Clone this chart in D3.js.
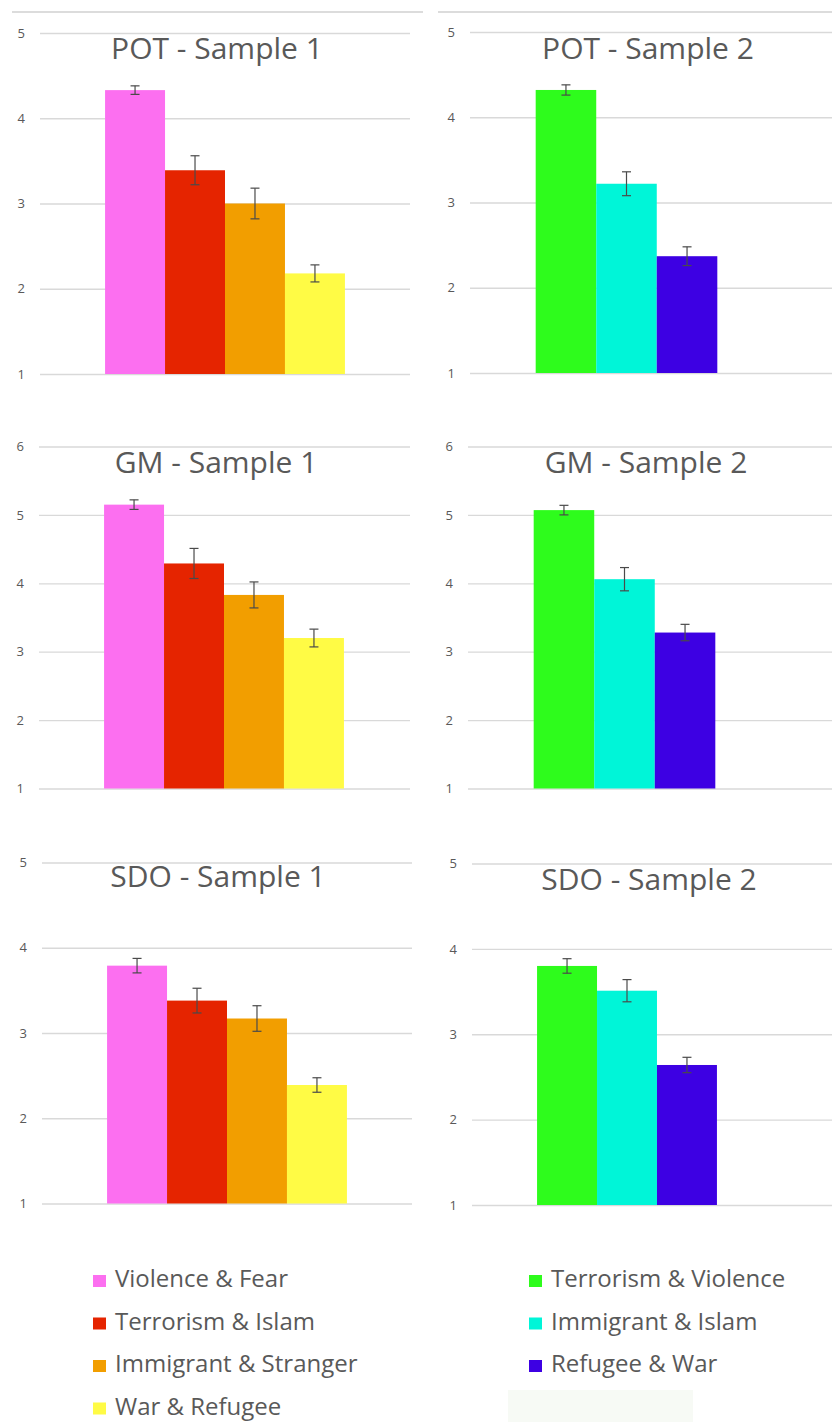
<!DOCTYPE html>
<html>
<head>
<meta charset="utf-8">
<script src="https://cdn.jsdelivr.net/npm/d3@7"></script>
<style>
body { margin: 0; background: #fff; }
text { font-family: "Open Sans", "Noto Sans", sans-serif; }
</style>
</head>
<body>
<div class="graph"></div>
<script>
// categories
var cats1 = ["Violence & Fear", "Terrorism & Islam", "Immigrant & Stranger", "War & Refugee"];
var cats2 = ["Terrorism & Violence", "Immigrant & Islam", "Refugee & War"];

// means and error bars
var pot1 = [4.33, 3.39, 3.00, 2.18];
var pot1Err = [0.05, 0.17, 0.18, 0.10];
var pot2 = [4.32, 3.22, 2.37];
var pot2Err = [0.06, 0.14, 0.11];
var gm1 = [5.15, 4.29, 3.83, 3.20];
var gm1Err = [0.07, 0.22, 0.19, 0.13];
var gm2 = [5.07, 4.06, 3.28];
var gm2Err = [0.07, 0.17, 0.12];
var sdo1 = [3.79, 3.38, 3.17, 2.39];
var sdo1Err = [0.085, 0.145, 0.15, 0.085];
var sdo2 = [3.80, 3.51, 2.64];
var sdo2Err = [0.085, 0.13, 0.09];

// tick labels
var ticks5 = [1, 2, 3, 4, 5];
var ticks6 = [1, 2, 3, 4, 5, 6];

var titles = ["POT - Sample 1", "POT - Sample 2", "GM - Sample 1", "GM - Sample 2", "SDO - Sample 1", "SDO - Sample 2"];

var colors1 = ["#fc6ff0", "#e52400", "#f29e00", "#fffb45"];
var colors2 = ["#2efc1c", "#00f5d8", "#3d00e3"];

var width = 832, height = 1422;
var gapWidth = 2.17; // excel style gap, in bar widths

var svg = d3.select(".graph").append("svg").attr("width", width).attr("height", height);

// faint frame lines at the very top
svg.append("line").attr("x1", 12).attr("x2", 423).attr("y1", 12).attr("y2", 12)
	.style("stroke", "#dcdcdc").style("stroke-width", 2);
svg.append("line").attr("x1", 438).attr("x2", 832).attr("y1", 12).attr("y2", 12)
	.style("stroke", "#dcdcdc").style("stroke-width", 2);

function panel(opt)
{
	var y = d3.scaleLinear().domain([1, opt.ticks[opt.ticks.length - 1]]).range([opt.bottom, opt.top]);

	var g = svg.append("g");

	// gridlines + tick labels
	var axis = d3.axisLeft(y).tickValues(opt.ticks).tickSize(-(opt.gridEnd - opt.x0)).tickPadding(15).tickFormat(d3.format("d"));
	var ax = g.append("g").attr("transform", "translate(" + opt.x0 + ",0)").call(axis);
	ax.select(".domain").remove();
	ax.selectAll("line").style("stroke", "#d9d9d9").style("stroke-width", 1.3);
	ax.selectAll("text").style("fill", "#595959").style("font-size", "13px");

	// bars, centred in the plot area
	var n = opt.cats.length;
	var bw = (opt.x1 - opt.x0) / (n + gapWidth);
	var cx = (opt.x0 + opt.x1) / 2;
	var x = d3.scaleBand().domain(opt.cats).range([cx - n * bw / 2, cx + n * bw / 2]);

	var data = opt.cats.map(function (c, i) { return {c: c, v: opt.values[i], e: opt.errs[i], col: opt.colors[i]}; });

	g.selectAll(".bar").data(data).enter().append("rect")
		.attr("x", function (d) { return x(d.c); })
		.attr("y", function (d) { return y(d.v); })
		.attr("width", x.bandwidth())
		.attr("height", function (d) { return y(1) - y(d.v); })
		.style("fill", function (d) { return d.col; });

	// error bars
	var eb = g.selectAll(".err").data(data).enter().append("g").style("stroke", "#4a4a4a").style("stroke-width", 1.2);
	eb.append("line")
		.attr("x1", function (d) { return x(d.c) + x.bandwidth() / 2; })
		.attr("x2", function (d) { return x(d.c) + x.bandwidth() / 2; })
		.attr("y1", function (d) { return y(d.v + d.e); })
		.attr("y2", function (d) { return y(d.v - d.e); });
	eb.append("line")
		.attr("x1", function (d) { return x(d.c) + x.bandwidth() / 2 - 4.5; })
		.attr("x2", function (d) { return x(d.c) + x.bandwidth() / 2 + 4.5; })
		.attr("y1", function (d) { return y(d.v + d.e); })
		.attr("y2", function (d) { return y(d.v + d.e); });
	eb.append("line")
		.attr("x1", function (d) { return x(d.c) + x.bandwidth() / 2 - 4.5; })
		.attr("x2", function (d) { return x(d.c) + x.bandwidth() / 2 + 4.5; })
		.attr("y1", function (d) { return y(d.v - d.e); })
		.attr("y2", function (d) { return y(d.v - d.e); });

	// title
	g.append("text").text(opt.title)
		.attr("x", opt.tx).attr("y", opt.ty)
		.attr("text-anchor", "middle")
		.style("font-size", "30px").style("fill", "#595959");
}

panel({title: titles[0], cats: cats1, values: pot1, errs: pot1Err, colors: colors1, ticks: ticks5,
	x0: 40, x1: 410, gridEnd: 410, top: 33, bottom: 374, tx: 217, ty: 59});
panel({title: titles[1], cats: cats2, values: pot2, errs: pot2Err, colors: colors2, ticks: ticks5,
	x0: 470, x1: 783, gridEnd: 832, top: 32, bottom: 373, tx: 648, ty: 59});
panel({title: titles[2], cats: cats1, values: gm1, errs: gm1Err, colors: colors1, ticks: ticks6,
	x0: 39, x1: 409, gridEnd: 410, top: 446.5, bottom: 788.5, tx: 216, ty: 473});
panel({title: titles[3], cats: cats2, values: gm2, errs: gm2Err, colors: colors2, ticks: ticks6,
	x0: 468, x1: 781, gridEnd: 832, top: 446.5, bottom: 788.5, tx: 646, ty: 473});
panel({title: titles[4], cats: cats1, values: sdo1, errs: sdo1Err, colors: colors1, ticks: ticks5,
	x0: 42, x1: 412, gridEnd: 412, top: 862.5, bottom: 1203.5, tx: 218, ty: 887});
panel({title: titles[5], cats: cats2, values: sdo2, errs: sdo2Err, colors: colors2, ticks: ticks5,
	x0: 472, x1: 782, gridEnd: 832, top: 863.5, bottom: 1205, tx: 649, ty: 890});

//LEGEND
svg.append("rect").attr("x", 508).attr("y", 1390).attr("width", 185).attr("height", 32).style("fill", "#f7faf5");

function legend(cats, colors, lx, ly)
{
	var rowH = 42.5;
	var items = svg.selectAll(null).data(cats).enter().append("g")
		.attr("transform", function (d, i) { return "translate(" + lx + "," + (ly + i * rowH) + ")"; });
	items.append("rect").attr("x", 0).attr("y", -12).attr("width", 13).attr("height", 12)
		.style("fill", function (d, i) { return colors[i]; });
	items.append("text").text(function (d) { return d; })
		.attr("x", 22).attr("y", 0)
		.style("font-size", "24px").style("fill", "#595959");
}
legend(cats1, colors1, 93, 1287);
legend(cats2, colors2, 529, 1287);
</script>
</body>
</html>
